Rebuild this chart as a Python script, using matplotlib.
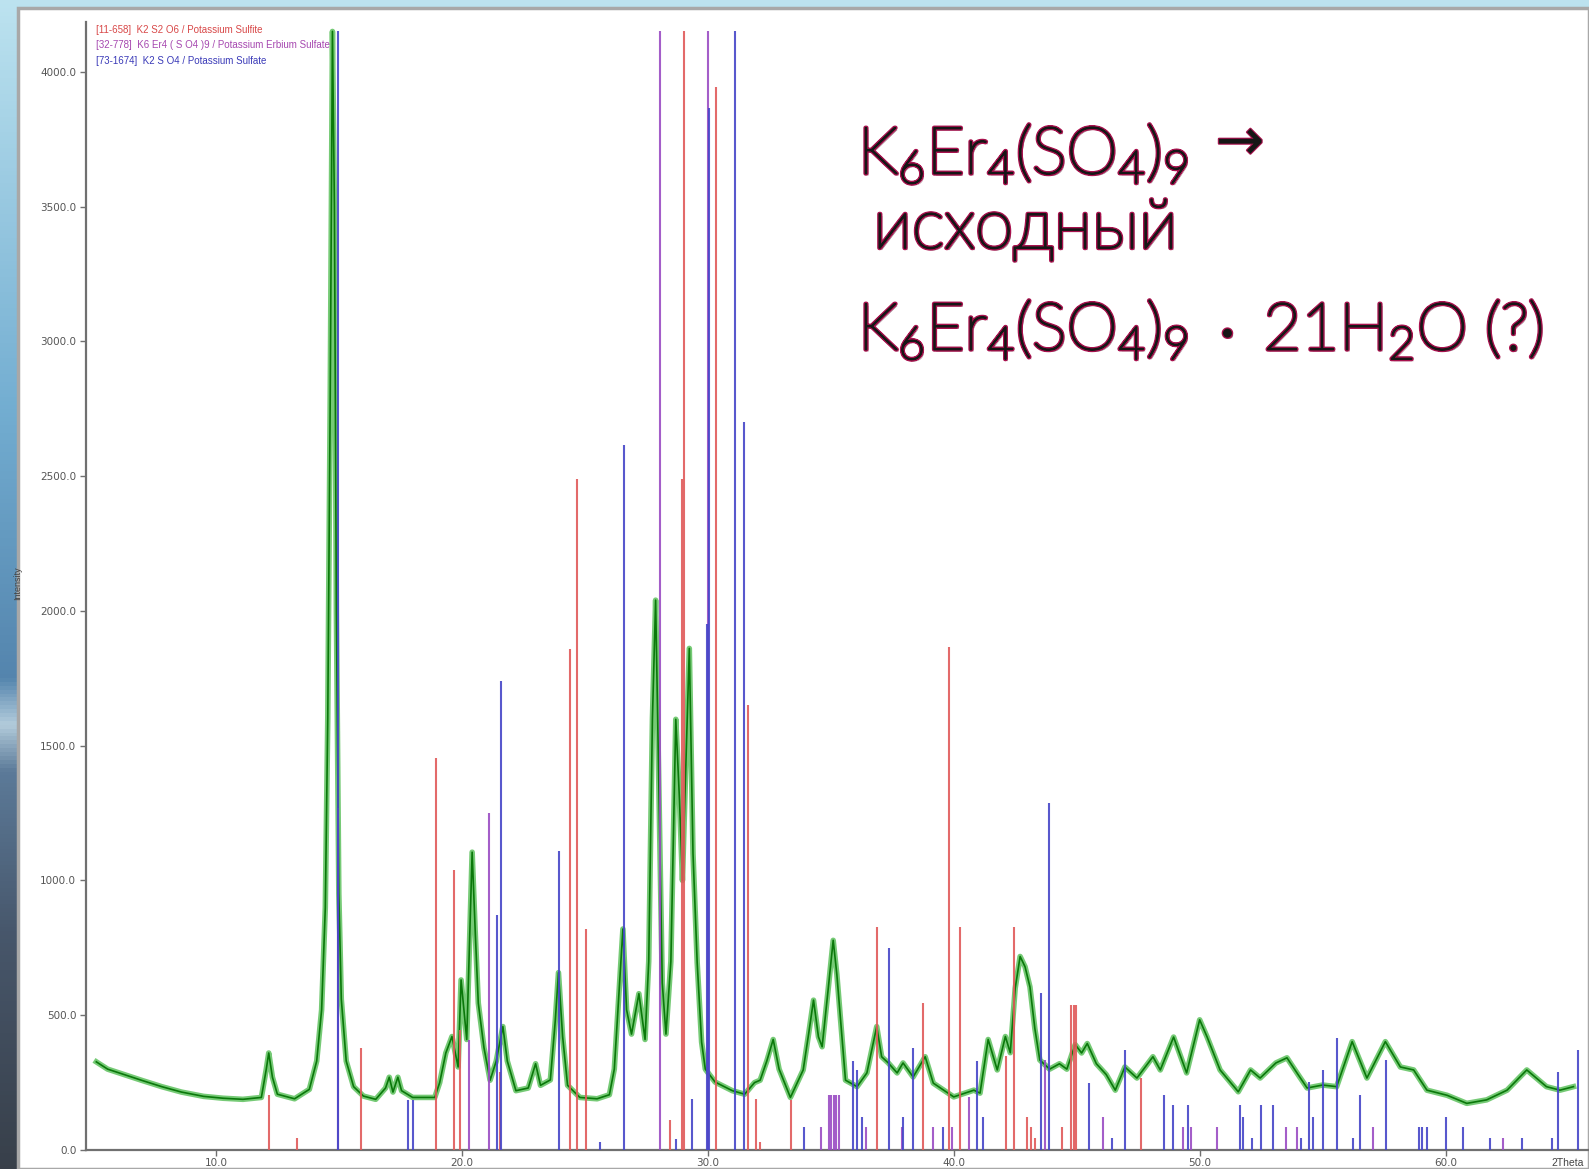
import numpy as np
import matplotlib
matplotlib.use("Agg")
import matplotlib.pyplot as plt
import matplotlib.patheffects as pe
from matplotlib.patches import Rectangle

W, H, DPI = 1589, 1169, 100

two_theta = [5.14, 5.6, 6.2, 7.0, 7.8, 8.6, 9.5, 10.3, 11.1, 11.85, 12.05, 12.15, 12.3, 12.5,
             13.2, 13.8, 14.1, 14.3, 14.45, 14.55, 14.65, 14.74, 14.82, 14.9, 15.0, 15.1, 15.3,
             15.6, 16.0, 16.5, 16.9, 17.05, 17.2, 17.4, 17.55, 18.0, 18.9, 19.1, 19.35, 19.6,
             19.85, 19.97, 20.2, 20.42, 20.55, 20.67, 20.9, 21.15, 21.4, 21.67, 21.85, 22.2,
             22.7, 23.0, 23.2, 23.6, 23.8, 23.93, 24.1, 24.3, 24.8, 25.5, 26.0, 26.2, 26.4,
             26.55, 26.7, 26.9, 27.2, 27.45, 27.6, 27.75, 27.88, 28.0, 28.15, 28.3, 28.5, 28.7,
             28.85, 28.97, 29.1, 29.25, 29.4, 29.57, 29.75, 29.9, 30.3, 31.0, 31.5, 31.9, 32.13,
             32.4, 32.66, 32.9, 33.36, 33.88, 34.1, 34.3, 34.5, 34.65, 34.9, 35.1, 35.25, 35.4,
             35.6, 36.07, 36.47, 36.87, 37.07, 37.34, 37.7, 37.94, 38.35, 38.84, 39.17, 40.0,
             40.82, 41.07, 41.4, 41.77, 42.1, 42.3, 42.5, 42.7, 42.9, 43.1, 43.3, 43.5, 43.9,
             44.3, 44.6, 44.94, 45.2, 45.43, 45.8, 46.2, 46.57, 46.96, 47.45, 48.1, 48.4, 48.94,
             49.47, 50.0, 50.3, 50.83, 51.57, 52.07, 52.46, 53.1, 53.55, 54.0, 54.37, 55.0,
             55.57, 56.2, 56.8, 57.55, 58.16, 58.7, 59.24, 60.06, 60.86, 61.67, 62.5, 63.3,
             64.1, 64.65, 65.2]
counts = [327, 300, 282, 258, 235, 215, 199, 192, 188, 195, 300, 360, 270, 207,
          190, 225, 330, 520, 900, 1600, 2800, 4150, 3500, 2000, 950, 560, 330,
          235, 200, 188, 230, 270, 215, 270, 220, 195, 195, 250, 360, 421,
          308, 631, 410, 1105, 800, 545, 380, 259, 330, 458, 330, 220,
          230, 320, 240, 260, 480, 658, 420, 240, 195, 190, 205, 300, 600,
          820, 520, 430, 580, 410, 700, 1600, 2040, 1400, 620, 430, 700, 1598,
          1300, 1000, 1400, 1861, 1100, 695, 400, 300, 252, 220, 207, 250, 259,
          330, 410, 300, 195, 297, 430, 556, 420, 383, 600, 778, 650, 481,
          259, 235, 286, 458, 346, 323, 286, 323, 271, 346, 248, 197,
          222, 211, 410, 297, 421, 361, 600, 718, 680, 605, 450, 334, 300,
          320, 300, 391, 360, 395, 320, 280, 222, 308, 267, 346, 297, 419,
          286, 483, 420, 297, 216, 297, 267, 323, 342, 280, 230, 241,
          235, 402, 267, 402, 308, 297, 222, 203, 173, 186, 222, 297,
          235, 222, 235]

# [11-658] K2 S2 O6
red_pos = [12.15, 13.3, 15.9, 18.95, 19.68, 19.93, 21.55, 24.38, 24.67, 25.05, 28.47, 28.95,
           29.02, 30.34, 31.65, 31.96, 32.13, 33.37, 36.89, 38.76, 39.82, 40.26, 42.12, 42.46,
           42.97, 43.15, 43.31, 44.42, 44.78, 44.88, 44.98, 47.6]
red_int = [205, 45, 378, 1455, 1039, 445, 290, 1858, 2490, 820, 110, 2490,
           4150, 3945, 1650, 190, 30, 186, 829, 545, 1868, 829, 347, 829,
           124, 86, 44, 86, 539, 539, 539, 267]

# [32-778] K6 Er4 (S O4)9
purple_pos = [14.97, 20.3, 21.1, 28.06, 30.0, 34.62, 34.92, 35.02, 35.12, 35.22, 35.32, 36.45,
              37.89, 39.17, 39.95, 40.63, 43.71, 46.06, 49.34, 49.63, 50.72, 53.53, 53.94,
              57.06, 62.32]
purple_int = [1270, 408, 1250, 4150, 4150, 86, 205, 205, 205, 205, 205, 86,
              86, 86, 86, 198, 335, 124, 86, 86, 86, 86, 86,
              86, 44]

# [73-1674] K2 S O4
blue_pos = [14.97, 17.82, 18.02, 21.44, 21.6, 23.95, 25.6, 26.6, 28.7, 29.36, 29.95, 30.05,
            31.1, 31.48, 33.93, 35.89, 36.05, 36.26, 37.37, 37.95, 38.33, 39.55, 40.93, 41.18,
            43.55, 43.89, 45.5, 46.42, 46.96, 48.56, 48.93, 49.54, 51.62, 51.78, 52.12, 52.48,
            53.0, 54.12, 54.46, 54.59, 55.03, 55.6, 56.25, 56.52, 57.57, 58.93, 59.03, 59.23,
            60.0, 60.72, 61.8, 63.09, 64.31, 64.58, 65.37]
blue_int = [4150, 185, 185, 872, 1740, 1110, 30, 2616, 40, 190, 1950, 3865,
            4150, 2700, 86, 332, 297, 124, 749, 124, 378, 86, 332, 124,
            582, 1287, 248, 44, 372, 205, 168, 168, 168, 124, 44, 168,
            168, 44, 254, 124, 297, 415, 44, 205, 335, 86, 86, 86,
            124, 86, 44, 44, 44, 291, 372]

legend_lines = ["[11-658]  K2 S2 O6 / Potassium Sulfite",
                "[32-778]  K6 Er4 ( S O4 )9 / Potassium Erbium Sulfate",
                "[73-1674]  K2 S O4 / Potassium Sulfate"]
legend_colors = ["#d84848", "#a648b0", "#3a3ab8"]

x_ticks = [10, 20, 30, 40, 50, 60]
y_ticks = [0, 500, 1000, 1500, 2000, 2500, 3000, 3500, 4000]

plt.rcParams['mathtext.fontset'] = 'custom'
plt.rcParams['mathtext.rm'] = 'Lato:light'
plt.rcParams['mathtext.it'] = 'Lato:light:italic'
plt.rcParams['mathtext.bf'] = 'Lato:bold'

fig = plt.figure(figsize=(W / DPI, H / DPI), dpi=DPI)

# slide background: blue gradient strip with a white chart panel
bg = fig.add_axes([0, 0, 1, 1])
bg.set_axis_off()
t = np.linspace(0, 1, 300)
stops = [0, 0.35, 0.58, 0.62, 0.66, 0.8, 1]
cols = np.array([[0.74, 0.89, 0.94], [0.45, 0.68, 0.82], [0.33, 0.52, 0.68],
                 [0.70, 0.80, 0.86], [0.36, 0.48, 0.60], [0.28, 0.34, 0.42], [0.22, 0.25, 0.29]])
grad = np.stack([np.interp(t, stops, cols[:, c]) for c in range(3)], axis=1)
bg.imshow(grad[:, None, :], aspect='auto', extent=[0, 1, 0, 1])
bg.add_patch(Rectangle((18 / W, 0), 1 - 18 / W, 1 - 8 / H, transform=bg.transAxes,
                       facecolor='white', edgecolor='#a8a8a8', lw=2.5))
bg.set_xlim(0, 1)
bg.set_ylim(0, 1)

ax = fig.add_axes([86 / W, 19 / H, 1 - 86 / W, (1150 - 22) / H])
ax.set_facecolor('none')
ax.set_xlim(4.72, 65.83)
ax.set_ylim(0, 4185)

ax.plot(two_theta, counts, color='#3cb43c', lw=4, alpha=0.7, solid_joinstyle='round', zorder=2)
ax.plot(two_theta, counts, color='#0a780a', lw=1.2, zorder=2.5)

ax.vlines(red_pos, 0, red_int, colors='#e05a5a', lw=1.5, alpha=0.9, zorder=3)
ax.vlines(purple_pos, 0, purple_int, colors='#9a4cc4', lw=1.5, alpha=0.9, zorder=3)
ax.vlines(blue_pos, 0, blue_int, colors='#4646c8', lw=1.5, alpha=0.9, zorder=3)

for side in ['top', 'right']:
    ax.spines[side].set_visible(False)
for side in ['left', 'bottom']:
    ax.spines[side].set_color('#707070')
    ax.spines[side].set_linewidth(1.6)
ax.set_xticks(x_ticks)
ax.set_xticklabels([f"{v:.1f}" for v in x_ticks])
ax.set_yticks(y_ticks)
ax.set_yticklabels([f"{v:.1f}" for v in y_ticks])
ax.tick_params(axis='both', direction='out', length=4, width=1, color='#707070',
               labelsize=7.5, labelcolor='#555555', pad=3)
ax.tick_params(axis='x', pad=1.5)

for i, (txt, c) in enumerate(zip(legend_lines, legend_colors)):
    fig.text(96 / W, 1 - (30 + 15.5 * i) / H, txt, color=c, fontsize=7,
             family='Liberation Sans', va='center', ha='left')

fig.text(18 / W, 1 - 583 / H, 'Intensity', rotation=90, fontsize=6.5, color='#444444',
         family='Liberation Sans', ha='center', va='center')
fig.text(1568 / W, 1 - 1163 / H, '2Theta', fontsize=7.5, color='#444444',
         family='Liberation Sans', ha='center', va='center')

# slide caption: light face thickened with a dark stroke, thin crimson rim and shadow
tc = '#161616'
glow = [pe.withSimplePatchShadow(offset=(1.5, -1.5), shadow_rgbFace='#3a0018', alpha=0.5),
        pe.Stroke(linewidth=3.2, foreground='#a8124e'),
        pe.Stroke(linewidth=1.3, foreground=tc), pe.Normal()]
fs = 47
fig.text(858 / W, 1 - 174 / H, r'$\mathrm{K_6Er_4(SO_4)_9}$', fontsize=fs, color=tc,
         ha='left', va='baseline', path_effects=glow)
fig.text(1240 / W, 1 - 143 / H, '\u2192', fontsize=42, color=tc, family='DejaVu Sans',
         ha='center', va='center',
         path_effects=[pe.Stroke(linewidth=1.6, foreground='#a8124e'), pe.Normal()])
fig.text(873 / W, 1 - 248 / H, 'исходный', fontsize=fs + 3, color=tc,
         family=['Lato', 'DejaVu Sans'], fontweight='light',
         ha='left', va='baseline', path_effects=glow)
fig.text(858 / W, 1 - 350 / H, r'$\mathrm{K_6Er_4(SO_4)_9\ \cdot\ 21H_2O\ (?)}$', fontsize=fs,
         color=tc, ha='left', va='baseline', path_effects=glow)

fig.savefig('out.png', dpi=DPI)
